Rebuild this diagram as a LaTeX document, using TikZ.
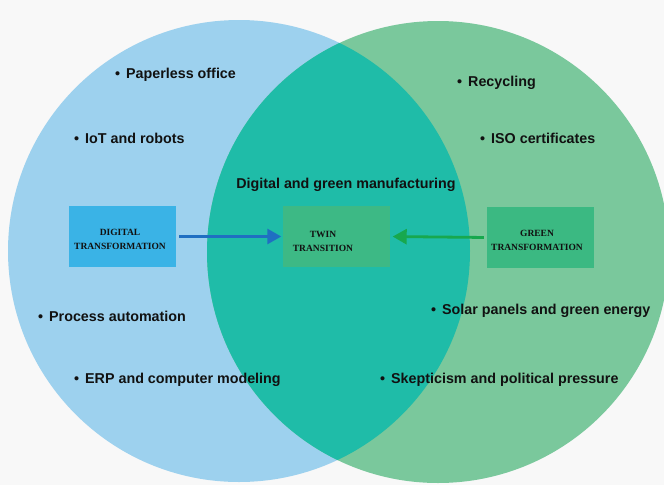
\documentclass[tikz,border=0pt]{standalone}
\usepackage{fontspec}
\setmainfont{Liberation Sans}
\newfontfamily\boxfont{Liberation Serif}
\usetikzlibrary{arrows.meta}
\definecolor{bgc}{HTML}{F8F8F8}
\definecolor{digcirc}{HTML}{9DD1EE}
\definecolor{grncirc}{HTML}{7AC89C}
\definecolor{overlap}{HTML}{1FBCA8}
\definecolor{digbox}{HTML}{3AB3E6}
\definecolor{twinbox}{HTML}{3DB985}
\definecolor{grnbox}{HTML}{3BB982}
\definecolor{digarrow}{HTML}{1F6FC2}
\definecolor{grnarrow}{HTML}{17A84E}
\definecolor{ink}{HTML}{111111}
\tikzset{
  item/.style={anchor=west, inner sep=0pt, font=\fontsize{14.3}{16}\selectfont\bfseries, text=ink},
  tbox/.style={minimum width=107pt, minimum height=61pt, inner sep=0pt},
  boxtext/.style={inner sep=0pt, align=center, text=ink,
    font=\boxfont\fontsize{9.5}{14}\selectfont\bfseries},
  flow/.style={line width=2.8pt, -{Triangle[length=14pt,width=15pt]}}
}
\newcommand{\itm}[1]{\textbullet\hspace{6pt}#1}
\begin{document}
\begin{tikzpicture}[x=1pt,y=-1pt]
  \useasboundingbox (0,0) rectangle (664,485);
  \fill[bgc] (0,0) rectangle (664,485);
  % two overlapping circles
  \fill[digcirc] (239,251) circle[radius=231];
  \fill[grncirc] (438,252) circle[radius=231];
  \begin{scope}
    \clip (239,251) circle[radius=231];
    \fill[overlap] (438,252) circle[radius=231];
  \end{scope}
  % boxes
  \node[tbox, fill=digbox] (dig) at (122.5,236.5) {};
  \node[tbox, fill=twinbox] (twin) at (336,236.5) {};
  \node[tbox, fill=grnbox] (grn) at (540.5,237.5) {};
  \node[boxtext] (digt) at (120,239) {DIGITAL\\TRANSFORMATION};
  \node[boxtext] (twint) at (323,241) {TWIN\\TRANSITION};
  \node[boxtext] (grnt) at (537,240) {GREEN\\TRANSFORMATION};
  % arrows
  \draw[flow, digarrow, shorten <=3pt, shorten >=1pt] (dig.east) -- (twin.west);
  \draw[flow, grnarrow, shorten <=3pt, shorten >=3pt] (grn.west) -- (twin.east);
  % labels
  \node[item, anchor=center] (mfg) at (346,185) {Digital and green manufacturing};
  \node[item] (p1) at (115,75) {\itm{Paperless office}};
  \node[item] (p2) at (74,138) {\itm{IoT and robots}};
  \node[item] (p3) at (38,316) {\itm{Process automation}};
  \node[item] (p4) at (74,380) {\itm{ERP and computer modeling}};
  \node[item] (g1) at (457,83) {\itm{Recycling}};
  \node[item] (g2) at (480,138) {\itm{ISO certificates}};
  \node[item] (g3) at (431,311) {\itm{Solar panels and green energy}};
  \node[item] (g4) at (380,380) {\itm{Skepticism and political pressure}};
\end{tikzpicture}
\end{document}
